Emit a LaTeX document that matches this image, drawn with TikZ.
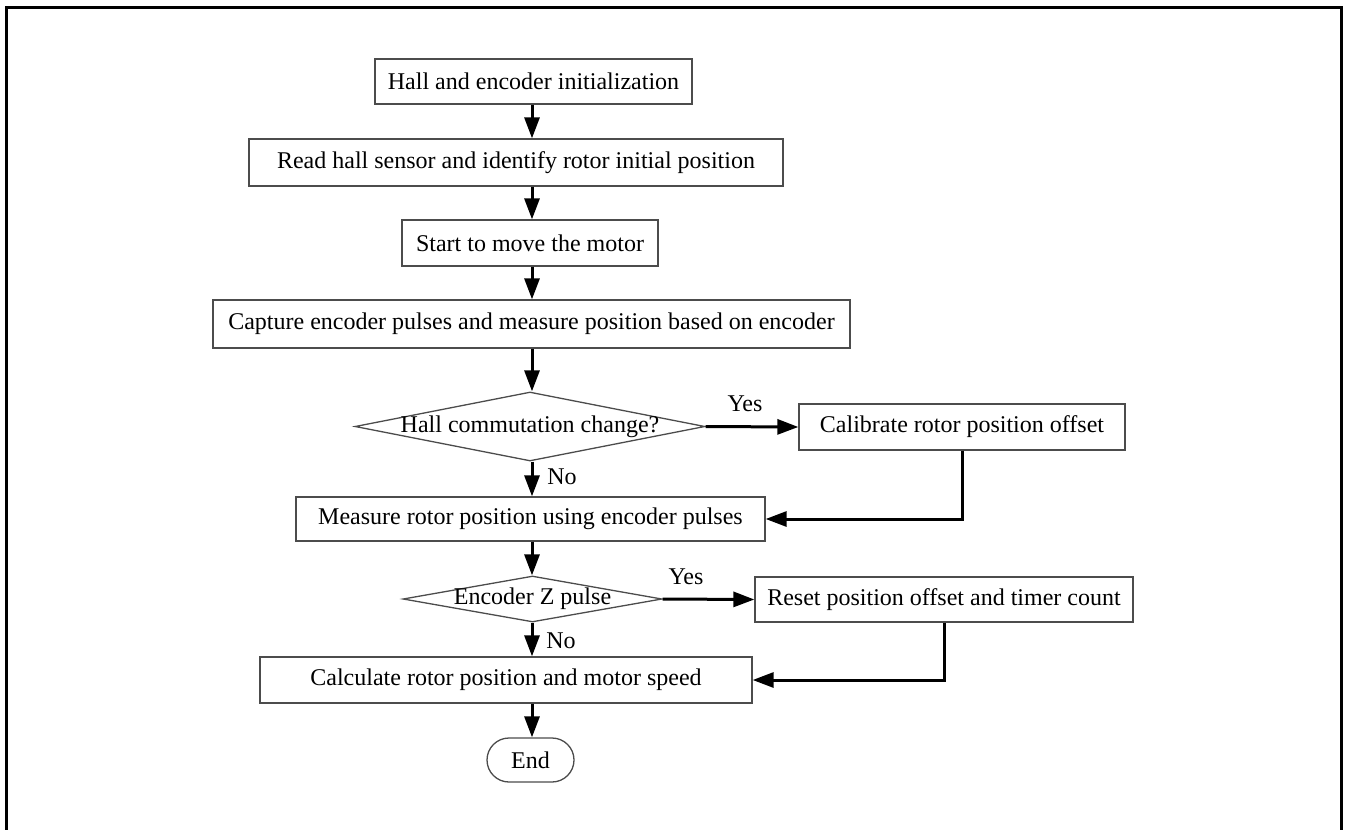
\documentclass[tikz,border=0pt]{standalone}
\usepackage{fontspec}
\setmainfont{Liberation Serif}
\usetikzlibrary{arrows.meta,shapes.geometric}

\tikzset{
  stepbox/.style={draw=black!70, line width=1.3pt, rectangle, inner sep=0pt,
                  font=\fontsize{24}{28}\selectfont},
  decision/.style={draw=black!70, line width=1.3pt, diamond, inner sep=0pt,
                   label={[font=\fontsize{24}{28}\selectfont]center:#1}},
  terminal/.style={draw=black!70, line width=1.3pt, rectangle, rounded corners=22pt,
                   inner sep=0pt, font=\fontsize{24}{28}\selectfont},
  flow/.style={line width=3pt, -{Triangle[length=21pt,width=15pt]}},
  tag/.style={font=\fontsize{24}{28}\selectfont, inner sep=0pt},
  frame/.style={line width=3pt, line cap=rect}
}

\begin{document}
\begin{tikzpicture}[x=1pt,y=-1pt]
  \useasboundingbox (0,0) rectangle (1347,830);

  % outer frame, open at the bottom
  \draw[frame] (6,830) -- (6,7) -- (1341,7) -- (1341,830);

  % main column
  \coordinate (axis) at (532,0);

  \node[stepbox, minimum width=317pt, minimum height=45pt] (init) at (533.5,81.5)
    {Hall and encoder initialization};
  \node[stepbox, minimum width=534pt, minimum height=47pt] (read) at (516,162.5)
    {Read hall sensor and identify rotor initial position};
  \node[stepbox, minimum width=256pt, minimum height=46pt] (start) at (530,243)
    {Start to move the motor};
  \node[stepbox, minimum width=637pt, minimum height=48pt] (capture) at (531.5,324)
    {Capture encoder pulses and measure position based on encoder};
  \node[decision={Hall commutation change?}, minimum width=350pt, minimum height=69pt]
    (hall) at (530,426.5) {};
  \node[stepbox, minimum width=326pt, minimum height=46pt] (calib) at (962,427)
    {Calibrate rotor position offset};
  \node[stepbox, minimum width=469pt, minimum height=44pt] (measure) at (530.5,519)
    {Measure rotor position using encoder pulses};
  \node[decision={Encoder Z pulse}, minimum width=259pt, minimum height=46pt]
    (zpulse) at (532.5,599) {};
  \node[stepbox, minimum width=378pt, minimum height=45pt] (reset) at (944,599.5)
    {Reset position offset and timer count};
  \node[stepbox, minimum width=492pt, minimum height=46pt] (calc) at (506,680)
    {Calculate rotor position and motor speed};
  \node[terminal, minimum width=87pt, minimum height=44pt] (end) at (530.5,760)
    {End};

  % branch labels
  \node[tag] (yes1) at (745,404) {Yes};
  \node[tag] (no1)  at (562,477) {No};
  \node[tag] (yes2) at (686,577) {Yes};
  \node[tag] (no2)  at (561,641) {No};

  % connectors
  \draw[flow] (init.south -| axis) -- (read.north -| axis);
  \draw[flow] (read.south -| axis) -- (start.north -| axis);
  \draw[flow] (start.south -| axis) -- (capture.north -| axis);
  \draw[flow] (capture.south -| axis) -- (hall.north -| axis);
  \draw[flow] (hall.east) -- (calib.west);
  \draw[flow] (hall.south -| axis) -- (measure.north -| axis);
  \draw[flow] (calib.south) |- (measure.east);
  \draw[flow] (measure.south -| axis) -- (zpulse.north -| axis);
  \draw[flow] (zpulse.east) -- (reset.west);
  \draw[flow] (zpulse.south -| axis) -- (calc.north -| axis);
  \draw[flow] (reset.south) |- (calc.east);
  \draw[flow] (calc.south -| axis) -- (end.north -| axis);
\end{tikzpicture}
\end{document}
